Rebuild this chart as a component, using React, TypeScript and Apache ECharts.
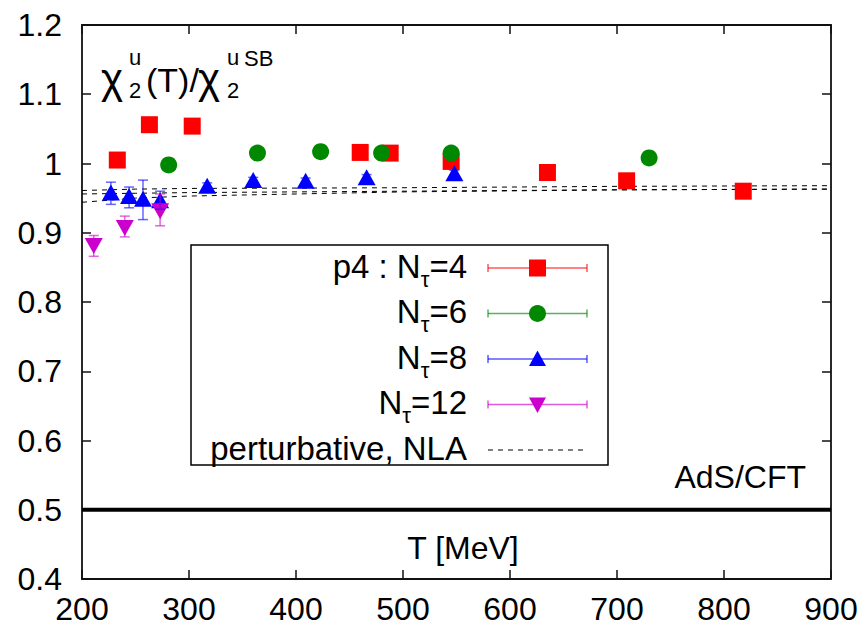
import React, { useEffect, useRef } from "react";
import * as echarts from "echarts";

// ---- data ----
const xTicks = [200, 300, 400, 500, 600, 700, 800, 900];
const yTicks = [0.4, 0.5, 0.6, 0.7, 0.8, 0.9, 1.0, 1.1, 1.2];

const nt4T = [233, 263, 303, 460, 488, 545, 635, 709, 818];
const nt4Chi = [1.005, 1.056, 1.054, 1.016, 1.015, 1.003, 0.987, 0.975, 0.96];

const nt6T = [281, 364, 423, 480, 545, 730];
const nt6Chi = [0.998, 1.015, 1.017, 1.015, 1.015, 1.008];

const nt8T = [227, 244, 257, 273, 317, 360, 409, 466, 548];
const nt8Chi = [0.958, 0.953, 0.949, 0.947, 0.968, 0.976, 0.975, 0.98, 0.986];
const nt8Lo = [0.941, 0.936, 0.919, 0.934, 0.964, 0.972, 0.971, 0.976, 0.982];
const nt8Hi = [0.973, 0.966, 0.976, 0.96, 0.972, 0.98, 0.979, 0.984, 0.99];

const nt12T = [211, 240, 273];
const nt12Chi = [0.881, 0.907, 0.931];
const nt12Lo = [0.866, 0.894, 0.91];
const nt12Hi = [0.896, 0.924, 0.956];

const pertT = [200, 250, 300, 500, 700, 900];
const pertUpper = [0.961, 0.963, 0.964, 0.965, 0.967, 0.968];
const pertMiddle = [0.956, 0.957, 0.958, 0.96, 0.962, 0.963];
const pertLower = [0.944, 0.95, 0.953, 0.959, 0.962, 0.963];

const adsT = [200, 900];
const adsChi = [0.5, 0.5];

const legendLabels = ["p4 : N", "N", "N", "N", "perturbative, NLA"];
const legendSuffix = ["=4", "=6", "=8", "=12", ""];

// ---- styles ----
const FONT = "Liberation Sans, Arial, Helvetica, sans-serif";
const RED = "#ff0000";
const GREEN = "#008800";
const BLUE = "#0000ff";
const MAGENTA = "#cc00cc";

const zip = (a: number[], b: number[]) => a.map((v, i) => [v, b[i]]);

function errorSeries(T: number[], lo: number[], hi: number[], color: string) {
  return {
    type: "custom",
    xAxisIndex: 0,
    yAxisIndex: 0,
    z: 5,
    silent: true,
    data: T.map((t, i) => [t, lo[i], hi[i]]),
    encode: { x: 0, y: [1, 2] },
    renderItem: (_params: any, api: any) => {
      const x = api.value(0);
      const p1 = api.coord([x, api.value(1)]);
      const p2 = api.coord([x, api.value(2)]);
      const w = 5;
      const st = { stroke: color, lineWidth: 1.5, opacity: 0.6 };
      return {
        type: "group",
        children: [
          { type: "line", shape: { x1: p1[0], y1: p1[1], x2: p2[0], y2: p2[1] }, style: st },
          { type: "line", shape: { x1: p1[0] - w, y1: p1[1], x2: p1[0] + w, y2: p1[1] }, style: st },
          { type: "line", shape: { x1: p2[0] - w, y1: p2[1], x2: p2[0] + w, y2: p2[1] }, style: st },
        ],
      };
    },
  };
}

function txt(text: string, x: number, y: number, size: number, align = "left", lineHeight?: number) {
  const style: any = {
    text,
    fontSize: size,
    fontFamily: FONT,
    fill: "#000",
    align,
    verticalAlign: "middle",
  };
  if (lineHeight) style.lineHeight = lineHeight;
  return { type: "text", x, y, style };
}

function legendGraphic() {
  const rowY = [266, 311.5, 357, 402.5, 448];
  const textX = 467;
  const lx1 = 488;
  const lx2 = 587;
  const sx = 537.5;
  const colors = [RED, GREEN, BLUE, MAGENTA];
  const children: any[] = [
    {
      type: "rect",
      shape: { x: 191, y: 245, width: 417, height: 220 },
      style: { fill: "#ffffff", stroke: "#000", lineWidth: 1.5 },
    },
  ];
  for (let i = 0; i < 5; i++) {
    const y = rowY[i];
    const rich = i < 4;
    children.push({
      type: "text",
      x: textX,
      y: y,
      style: {
        text: rich ? `{a|${legendLabels[i]}}{s|τ}{a|${legendSuffix[i]}}` : legendLabels[i],
        align: "right",
        verticalAlign: "middle",
        fontSize: 33,
        fontFamily: FONT,
        fill: "#000",
        rich: {
          a: { fontSize: 33, fontFamily: FONT, lineHeight: 48, fill: "#000" },
          s: { fontSize: 22, fontFamily: FONT, verticalAlign: "bottom", fill: "#000" },
        },
      },
    });
    const ly = y + 2;
    if (i < 4) {
      const c = colors[i];
      const st = { stroke: c, lineWidth: 1.5, opacity: 0.65 };
      children.push({ type: "line", shape: { x1: lx1, y1: ly, x2: lx2, y2: ly }, style: st });
      children.push({ type: "line", shape: { x1: lx1, y1: ly - 4, x2: lx1, y2: ly + 4 }, style: st });
      children.push({ type: "line", shape: { x1: lx2, y1: ly - 4, x2: lx2, y2: ly + 4 }, style: st });
      if (i === 0) {
        children.push({ type: "rect", shape: { x: sx - 8.5, y: ly - 8.5, width: 17, height: 17 }, style: { fill: c } });
      } else if (i === 1) {
        children.push({ type: "circle", shape: { cx: sx, cy: ly, r: 8.5 }, style: { fill: c } });
      } else if (i === 2) {
        children.push({
          type: "polygon",
          shape: { points: [[sx, ly - 8.5], [sx + 8.5, ly + 7], [sx - 8.5, ly + 7]] },
          style: { fill: c },
        });
      } else {
        children.push({
          type: "polygon",
          shape: { points: [[sx, ly + 8.5], [sx + 8.5, ly - 7], [sx - 8.5, ly - 7]] },
          style: { fill: c },
        });
      }
    } else {
      children.push({
        type: "line",
        shape: { x1: lx1, y1: ly, x2: lx2, y2: ly },
        style: { stroke: "#000", lineWidth: 1, lineDash: [5, 5] },
      });
    }
  }
  return { type: "group", children };
}

function titleGraphic() {
  return {
    type: "group",
    children: [
      txt("χ", 101, 78, 42),
      txt("u\n2", 129, 74, 22, "left", 33),
      txt("(T)/", 146, 80, 34),
      txt("χ", 198, 78, 42),
      txt("u\n2", 227, 74, 22, "left", 33),
      txt("SB", 244, 58, 22),
    ],
  };
}

export default function App() {
  const ref = useRef<HTMLDivElement>(null);
  useEffect(() => {
    if (!ref.current) return;
    const chart = echarts.init(ref.current, null, { renderer: "svg" });
    const axisLine = { show: true, lineStyle: { color: "#111", width: 1.8 } };
    const tick = { show: true, inside: true, length: 9, lineStyle: { color: "#111", width: 1.5 } };
    const option: any = {
      animation: false,
      backgroundColor: "#ffffff",
      grid: { left: 82, right: 36, top: 25, bottom: 50, show: false },
      xAxis: [
        {
          type: "value",
          min: xTicks[0],
          max: xTicks[xTicks.length - 1],
          interval: 100,
          position: "bottom",
          axisLine,
          axisTick: tick,
          splitLine: { show: false },
          axisLabel: { fontSize: 32, fontFamily: FONT, color: "#000", margin: 14 },
        },
        {
          type: "value",
          min: xTicks[0],
          max: xTicks[xTicks.length - 1],
          interval: 100,
          position: "top",
          axisLine,
          axisTick: tick,
          splitLine: { show: false },
          axisLabel: { show: false },
        },
      ],
      yAxis: [
        {
          type: "value",
          min: yTicks[0],
          max: yTicks[yTicks.length - 1],
          interval: 0.1,
          position: "left",
          axisLine,
          axisTick: tick,
          splitLine: { show: false },
          axisLabel: {
            fontSize: 32,
            fontFamily: FONT,
            color: "#000",
            margin: 20,
            formatter: (v: number) => String(Math.round(v * 10) / 10),
          },
        },
        {
          type: "value",
          min: yTicks[0],
          max: yTicks[yTicks.length - 1],
          interval: 0.1,
          position: "right",
          axisLine,
          axisTick: tick,
          splitLine: { show: false },
          axisLabel: { show: false },
        },
      ],
      series: [
        {
          name: "perturbative upper",
          type: "line",
          data: zip(pertT, pertUpper),
          showSymbol: false,
          symbol: "none",
          lineStyle: { color: "#000", width: 1, type: [5, 5] },
          z: 2,
          silent: true,
        },
        {
          name: "perturbative middle",
          type: "line",
          data: zip(pertT, pertMiddle),
          showSymbol: false,
          symbol: "none",
          lineStyle: { color: "#000", width: 1, type: [5, 5] },
          z: 2,
          silent: true,
        },
        {
          name: "perturbative lower",
          type: "line",
          data: zip(pertT, pertLower),
          showSymbol: false,
          symbol: "none",
          lineStyle: { color: "#000", width: 1, type: [5, 5] },
          z: 2,
          silent: true,
        },
        {
          name: "AdS/CFT",
          type: "line",
          data: zip(adsT, adsChi),
          showSymbol: false,
          symbol: "none",
          lineStyle: { color: "#000", width: 4 },
          z: 2,
          silent: true,
        },
        {
          name: "p4 : Nτ=4",
          type: "scatter",
          data: zip(nt4T, nt4Chi),
          symbol: "rect",
          symbolSize: 17,
          itemStyle: { color: RED, opacity: 1 },
          z: 3,
        },
        {
          name: "Nτ=6",
          type: "scatter",
          data: zip(nt6T, nt6Chi),
          symbol: "circle",
          symbolSize: 17,
          itemStyle: { color: GREEN, opacity: 1 },
          z: 3,
        },
        {
          name: "Nτ=8",
          type: "scatter",
          data: zip(nt8T, nt8Chi),
          symbol: "triangle",
          symbolSize: [18, 16],
          itemStyle: { color: BLUE, opacity: 1 },
          z: 3,
        },
        errorSeries(nt8T, nt8Lo, nt8Hi, BLUE),
        {
          name: "Nτ=12",
          type: "scatter",
          data: zip(nt12T, nt12Chi),
          symbol: "triangle",
          symbolRotate: 180,
          symbolSize: [18, 16],
          itemStyle: { color: MAGENTA, opacity: 1 },
          z: 4,
        },
        errorSeries(nt12T, nt12Lo, nt12Hi, MAGENTA),
      ],
      graphic: [
        titleGraphic(),
        legendGraphic(),
        txt("AdS/CFT", 806, 477, 32, "right"),
        txt("T [MeV]", 463, 548, 32, "center"),
      ],
    };
    chart.setOption(option);
    return () => chart.dispose();
  }, []);
  return (
    <div
      ref={ref}
      style={{ position: "fixed", left: 0, top: 0, width: 867, height: 629, background: "#fff" }}
    />
  );
}
